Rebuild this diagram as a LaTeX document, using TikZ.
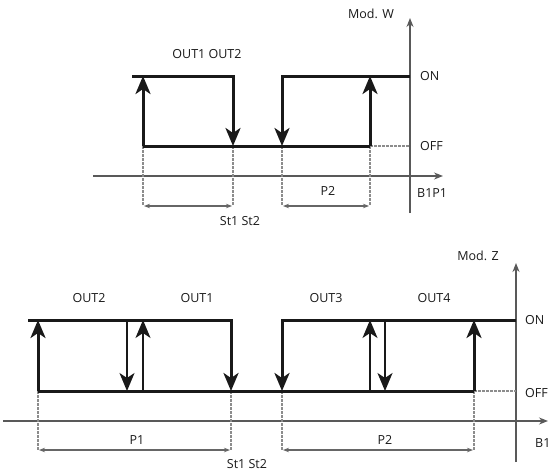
\documentclass[tikz,border=0pt]{standalone}
\usepackage{fontspec}
\setmainfont{Open Sans}
\usetikzlibrary{arrows.meta}

\tikzset{
  level/.style={line width=3pt, color=black!90, line join=miter},
  jump/.style={level, -{Stealth[length=18pt, width=15pt, inset=5pt]}},
  thinjump/.style={jump, line width=2pt},
  axis/.style={line width=1.3pt, color=black!65, -{Stealth[length=9pt, width=7pt]}},
  guide/.style={line width=1.6pt, color=black!45, dash pattern=on 2.5pt off 1.5pt},
  span/.style={line width=1.2pt, color=black!60, {Stealth[length=6pt, width=4.5pt]}-{Stealth[length=6pt, width=4.5pt]}},
  lbl/.style={font=\fontsize{12.5}{14}\selectfont, text=black!90, inner sep=0pt}
}

\begin{document}
\begin{tikzpicture}[x=1pt, y=-1pt]
\clip (0,0) rectangle (548,471);

% upper chart: Mod. W
\def\yon{76};
\def\yoff{146};
\def\yax{176};
\def\yspan{206};
\def\xax{410};

\draw[axis] (93,\yax) -- (443,\yax);
\draw[axis] (\xax,213) -- (\xax,18);

\draw[guide] (143,\yoff) -- (143,\yspan);
\draw[guide] (233,\yoff) -- (233,\yspan);
\draw[guide] (282,\yoff) -- (282,\yspan);
\draw[guide] (370,\yoff) -- (370,\yspan);
\draw[guide] (370,\yoff) -- (\xax,\yoff);

\draw[level] (143,\yoff) -- (370,\yoff);
\draw[jump] (132,\yon) -- (233,\yon) -- (233,\yoff);
\draw[jump] (143,\yoff) -- (143,\yon);
\draw[jump] (\xax,\yon) -- (282,\yon) -- (282,\yoff);
\draw[jump] (370,\yoff) -- (370,\yon);

\draw[span] (144,\yspan) -- (232,\yspan);
\draw[span] (283,\yspan) -- (369,\yspan);

\node[lbl] (modw) at (371,14) {Mod. W};
\node[lbl] (out12) at (207,54) {OUT1 OUT2};
\node[lbl, anchor=west] (onw) at (420,\yon) {ON};
\node[lbl, anchor=west] (offw) at (420,\yoff) {OFF};
\node[lbl, anchor=west] (bw) at (417,193) {B1P1};
\node[lbl] (p2w) at (328,191) {P2};
\node[lbl] (stw) at (240,221) {St1 St2};

% lower chart: Mod. Z
\def\yon{320};
\def\yoff{391};
\def\yax{421};
\def\yspan{450};
\def\xax{516};

\draw[axis] (3,\yax) -- (548,\yax);
\draw[axis] (\xax,462) -- (\xax,263);

\draw[guide] (38,\yoff) -- (38,\yspan);
\draw[guide] (231,\yoff) -- (231,\yspan);
\draw[guide] (282,\yoff) -- (282,\yspan);
\draw[guide] (474,\yoff) -- (474,\yspan);
\draw[guide] (474,\yoff) -- (\xax,\yoff);

\draw[level] (38,\yoff) -- (474,\yoff);
\draw[jump] (28,\yon) -- (231,\yon) -- (231,\yoff);
\draw[jump] (38,\yoff) -- (38,\yon);
\draw[thinjump] (127,\yon) -- (127,\yoff);
\draw[thinjump] (143,\yoff) -- (143,\yon);
\draw[jump] (\xax,\yon) -- (282,\yon) -- (282,\yoff);
\draw[thinjump] (370,\yoff) -- (370,\yon);
\draw[thinjump] (385,\yon) -- (385,\yoff);
\draw[jump] (474,\yoff) -- (474,\yon);

\draw[span] (39,\yspan) -- (230,\yspan);
\draw[span] (283,\yspan) -- (473,\yspan);

\node[lbl] (modz) at (478,256) {Mod. Z};
\node[lbl] (out2) at (89,298) {OUT2};
\node[lbl] (out1) at (197,298) {OUT1};
\node[lbl] (out3) at (326,298) {OUT3};
\node[lbl] (out4) at (434,298) {OUT4};
\node[lbl, anchor=west] (onz) at (525,\yon) {ON};
\node[lbl, anchor=west] (offz) at (525,393) {OFF};
\node[lbl, anchor=west] (bz) at (535,443) {B1P1};
\node[lbl] (p1z) at (137,440) {P1};
\node[lbl] (p2z) at (385,440) {P2};
\node[lbl] (stz) at (247,464) {St1 St2};

\end{tikzpicture}
\end{document}
